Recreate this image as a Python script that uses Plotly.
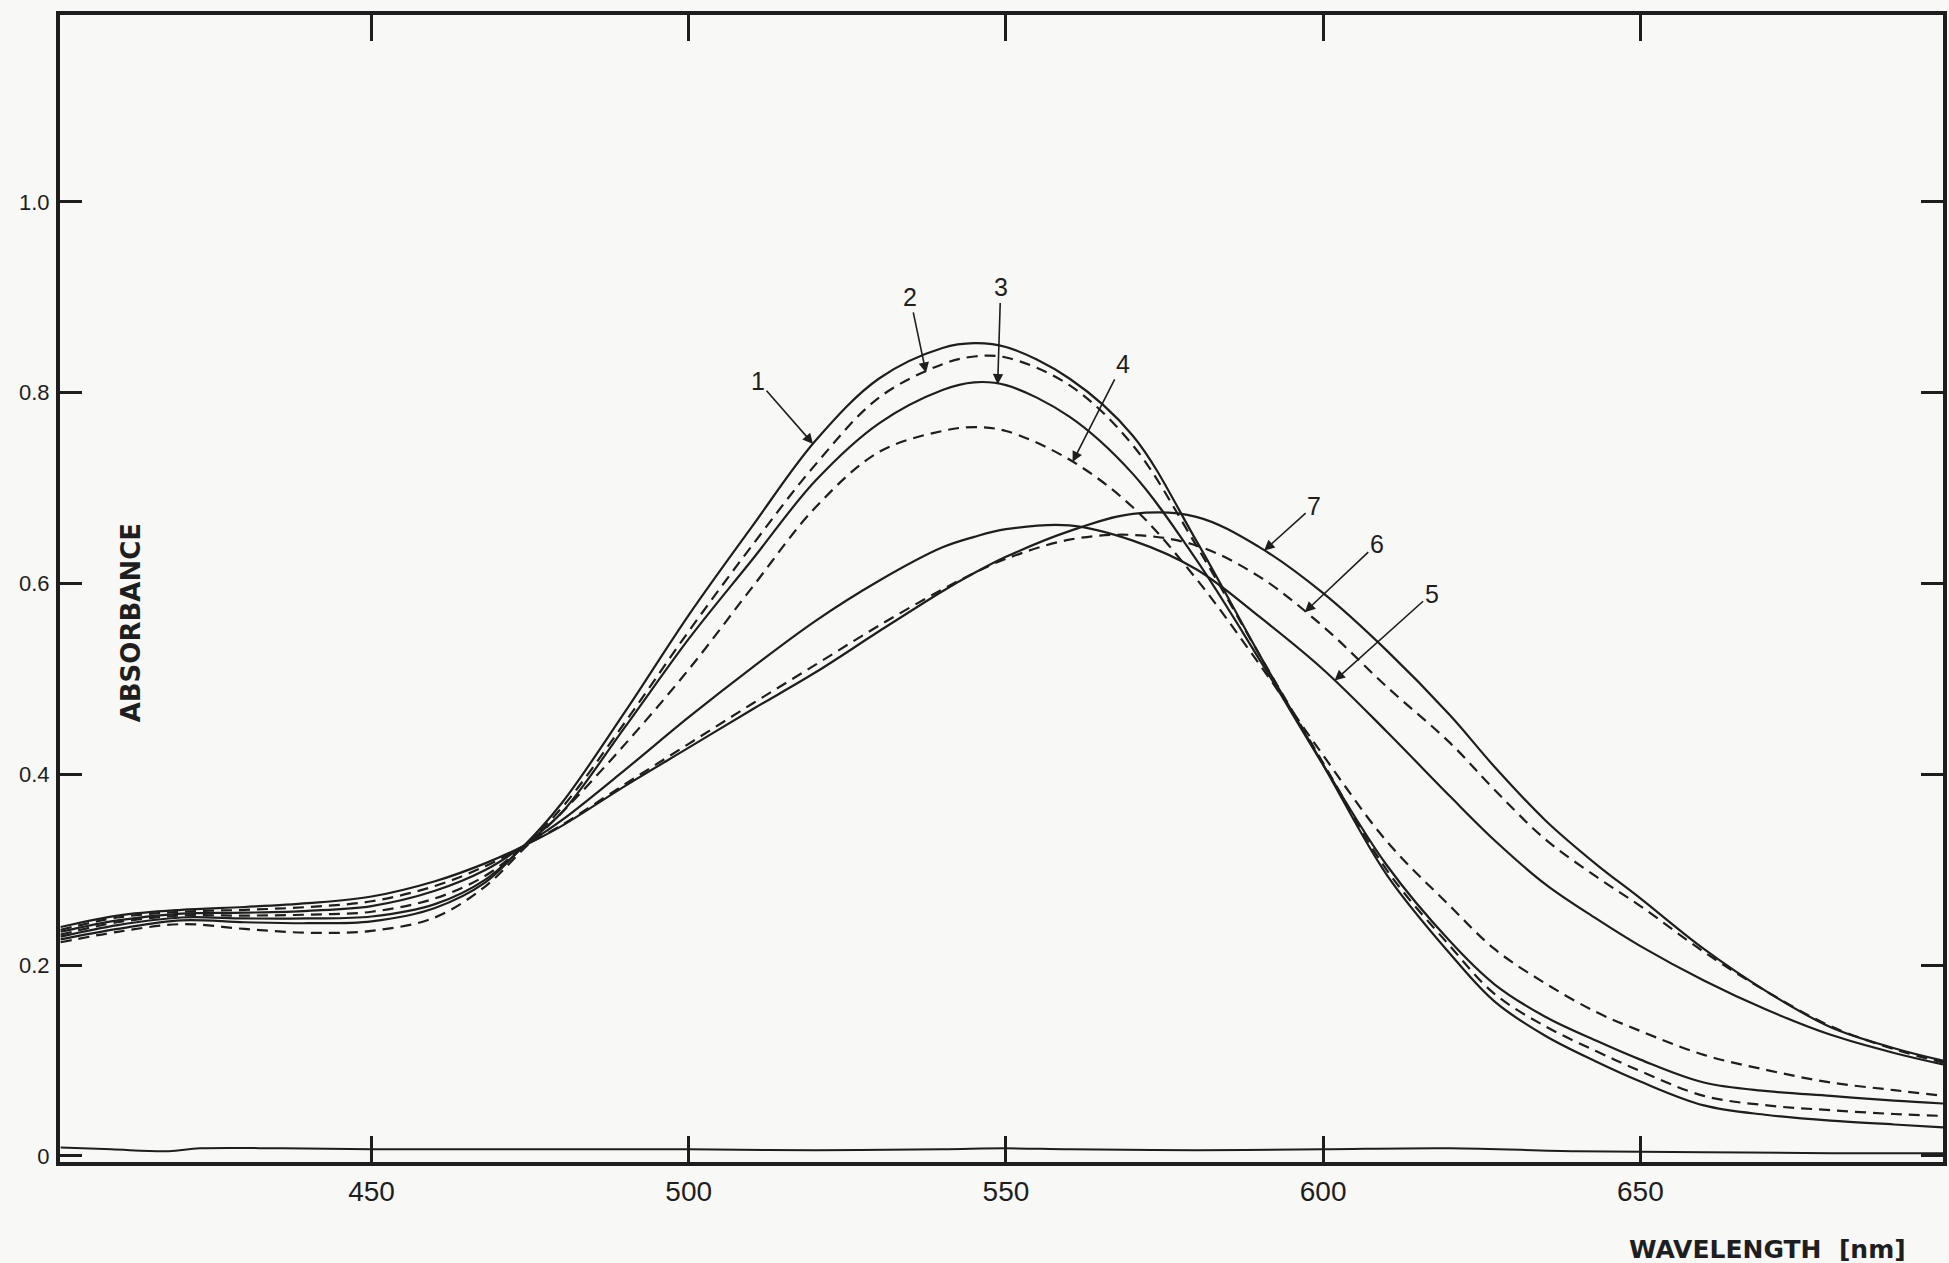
import numpy as np
import plotly.graph_objects as go

# wavelength grid (nm)
wl = [401, 410, 420, 430, 440, 450, 460, 468, 474, 480, 490, 500, 510, 520, 530, 540, 545, 550,
      560, 570, 580, 590, 600, 610, 620, 627, 635, 643, 650, 660, 670, 680, 690, 697.7]

curve1 = [.230, .242, .250, .249, .249, .251, .264, .290, .325, .370, .466, .567, .660, .750, .815, .847, .852, .848,
          .815, .755, .645, .525, .410, .295, .212, .162, .126, .099, .078, .053, .043, .037, .033, .030]
curve2 = [.232, .245, .252, .252, .253, .256, .270, .294, .325, .365, .455, .550, .640, .725, .795, .830, .838, .837,
          .808, .745, .640, .525, .412, .300, .220, .170, .136, .110, .089, .063, .053, .048, .044, .042]
curve3 = [.227, .238, .247, .245, .244, .246, .260, .287, .325, .360, .450, .542, .625, .708, .768, .803, .811, .808,
          .775, .715, .625, .520, .410, .305, .225, .180, .146, .121, .101, .077, .068, .063, .058, .055]
curve4 = [.224, .235, .243, .238, .234, .236, .250, .283, .322, .360, .432, .510, .596, .680, .738, .760, .764, .760,
          .730, .680, .605, .515, .420, .330, .262, .217, .181, .151, .131, .106, .090, .077, .069, .063]
curve5 = [.235, .247, .254, .255, .257, .262, .278, .300, .325, .352, .405, .460, .512, .561, .603, .638, .649, .657,
          .661, .645, .615, .565, .510, .445, .377, .331, .285, .249, .220, .184, .153, .127, .108, .096]
curve6 = [.237, .250, .256, .258, .261, .267, .283, .304, .325, .347, .390, .432, .474, .515, .556, .594, .611, .626,
          .646, .651, .640, .607, .555, .492, .433, .384, .332, .293, .262, .214, .172, .136, .112, .098]
curve7 = [.240, .252, .258, .261, .265, .272, .288, .307, .325, .346, .388, .428, .468, .507, .550, .592, .611, .628,
          .655, .673, .670, .638, .590, .530, .462, .408, .352, .306, .270, .217, .172, .135, .113, .100]

wl_base = [401, 409, 418, 423, 436, 450, 465, 480, 500, 520, 540, 550, 560, 580, 600, 620, 640, 660, 680, 697.7]
baseline = [0.009, 0.007, 0.005, 0.008, 0.008, 0.007, 0.007, 0.007, 0.007, 0.006, 0.007, 0.008, 0.007, 0.006,
            0.007, 0.008, 0.005, 0.004, 0.003, 0.003]

labels = ["1", "2", "3", "4", "5", "6", "7"]
dashed = [False, True, False, True, False, True, False]
# arrow tip wavelength and label offset (px)
tip_wl = [519.6, 537.4, 548.7, 560.5, 601.8, 597.1, 590.7]
lab_ax = [-55, -16, 3, 50, 97, 72, 50]
lab_ay = [-63, -76, -97, -98, -87, -68, -45]

x_ticks = [450, 500, 550, 600, 650]
y_ticks = [0, 0.2, 0.4, 0.6, 0.8, 1.0]
y_ticktext = ["0", "0.2", "0.4", "0.6", "0.8", "1.0"]

curves = [curve1, curve2, curve3, curve4, curve5, curve6, curve7]
ink = "#1e1e1e"

fig = go.Figure()
fig.add_trace(go.Scatter(x=wl_base, y=baseline, mode="lines",
                         line=dict(color=ink, width=2, shape="spline"), showlegend=False))
for c, d in zip(curves, dashed):
    fig.add_trace(go.Scatter(x=wl, y=c, mode="lines",
                             line=dict(color=ink, width=2.2, shape="spline",
                                       dash="11px,7px" if d else "solid"),
                             showlegend=False))

for lab, c, tx, ax, ay in zip(labels, curves, tip_wl, lab_ax, lab_ay):
    ty = float(np.interp(tx, wl, c))
    fig.add_annotation(x=tx, y=ty, xref="x", yref="y", text=lab, showarrow=True,
                       ax=ax, ay=ay, arrowhead=2, arrowsize=1.3, arrowwidth=1.6,
                       arrowcolor=ink, standoff=0,
                       font=dict(family="Liberation Sans, Arial", size=25, color=ink))

fig.add_annotation(x=0.0374, y=0.470, xref="paper", yref="paper", text="<b>ABSORBANCE</b>",
                   textangle=-90, showarrow=False, xanchor="center", yanchor="middle",
                   font=dict(family="DejaVu Sans", size=26, color=ink))
fig.add_annotation(x=0.907, y=-0.0759, xref="paper", yref="paper",
                   text="<b>WAVELENGTH\u00a0\u00a0[nm]</b>",
                   showarrow=False, xanchor="center", yanchor="middle",
                   font=dict(family="DejaVu Sans", size=25, color=ink))

fig.update_layout(
    width=1949, height=1263,
    margin=dict(l=60, r=2, t=15, b=101),
    paper_bgcolor="#f8f8f6", plot_bgcolor="#f8f8f6",
    showlegend=False,
)
fig.update_xaxes(range=[400.9, 697.7], tickvals=x_ticks, ticks="inside", ticklen=26, tickwidth=3,
                 tickcolor=ink, showline=True, linewidth=4, linecolor=ink, mirror="ticks",
                 showgrid=False, zeroline=False, ticklabelstandoff=1,
                 tickfont=dict(family="Liberation Sans, Arial", size=28, color=ink))
fig.update_yaxes(range=[-0.0063, 1.196], tickvals=y_ticks, ticktext=y_ticktext, ticks="inside",
                 ticklen=22, tickwidth=2.5, tickcolor=ink, showline=True, linewidth=4, linecolor=ink,
                 mirror="ticks", showgrid=False, zeroline=False, ticklabelstandoff=2,
                 tickfont=dict(family="Liberation Sans, Arial", size=22, color=ink))

fig.write_html("out.html", config={"displayModeBar": False},
               post_script="document.body.style.margin='0';document.body.style.overflow='hidden';")
